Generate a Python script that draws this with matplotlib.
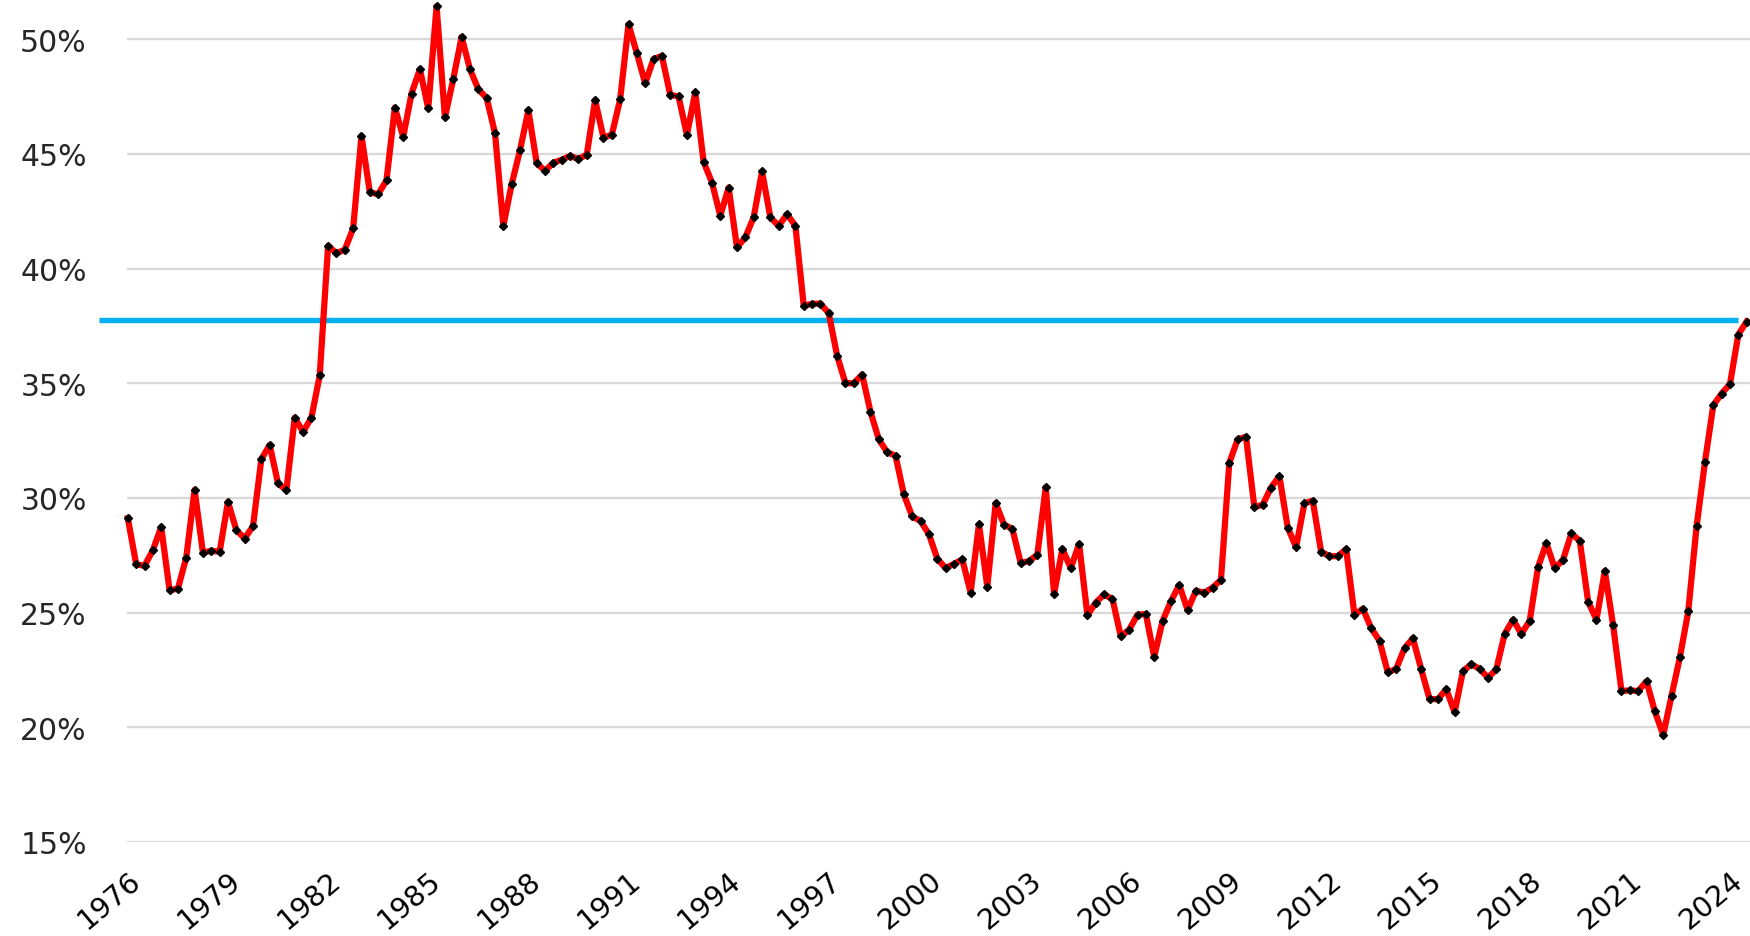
import numpy as np
import matplotlib
matplotlib.use("Agg")
import matplotlib.pyplot as plt
from matplotlib.ticker import FuncFormatter

# quarterly values, 1976 Q1 .. 2024 Q3 (percent)
share = [
    29.11, 27.11, 27.04, 27.72, 28.73, 25.98, 26.04, 27.40, 30.35, 27.61,
    27.70, 27.65, 29.83, 28.60, 28.23, 28.77, 31.69, 32.31, 30.63, 30.34,
    33.50, 32.88, 33.50, 35.35, 40.99, 40.67, 40.82, 41.75, 45.78, 43.32,
    43.24, 43.85, 47.02, 45.74, 47.63, 48.69, 46.98, 51.43, 46.59, 48.26,
    50.10, 48.69, 47.82, 47.43, 45.90, 41.86, 43.68, 45.16, 46.90, 44.59,
    44.26, 44.62, 44.74, 44.91, 44.77, 44.97, 47.34, 45.71, 45.83, 47.38,
    50.65, 49.39, 48.07, 49.13, 49.27, 47.57, 47.50, 45.83, 47.68, 44.65,
    43.75, 42.30, 43.53, 40.92, 41.36, 42.23, 44.23, 42.23, 41.86, 42.37,
    41.86, 38.38, 38.46, 38.47, 38.05, 36.20, 35.00, 35.00, 35.38, 33.75,
    32.55, 31.99, 31.84, 30.15, 29.19, 28.99, 28.42, 27.35, 26.94, 27.12,
    27.32, 25.87, 28.85, 26.13, 29.77, 28.84, 28.65, 27.17, 27.24, 27.53,
    30.46, 25.82, 27.78, 26.94, 27.99, 24.88, 25.44, 25.79, 25.59, 23.96,
    24.26, 24.91, 24.94, 23.07, 24.63, 25.49, 26.21, 25.11, 25.95, 25.87,
    26.09, 26.43, 31.53, 32.55, 32.67, 29.60, 29.70, 30.45, 30.95, 28.71,
    27.85, 29.76, 29.88, 27.66, 27.46, 27.46, 27.77, 24.90, 25.17, 24.33,
    23.77, 22.39, 22.55, 23.45, 23.88, 22.53, 21.23, 21.23, 21.66, 20.66,
    22.45, 22.75, 22.55, 22.16, 22.53, 24.07, 24.69, 24.07, 24.64, 26.98,
    28.03, 26.93, 27.31, 28.46, 28.12, 25.48, 24.69, 26.81, 24.44, 21.58,
    21.61, 21.58, 22.01, 20.69, 19.67, 21.38, 23.06, 25.05, 28.76, 31.56,
    34.04, 34.55, 34.96, 37.12, 37.69,
]
first_year = 1976
label_years = list(range(1976, 2025, 3))
average = 37.76  # long-run average line
y_ticks = [15, 20, 25, 30, 35, 40, 45, 50]

x = np.arange(len(share))
tick_pos = [(yr - first_year) * 4 for yr in label_years]

fig = plt.figure(figsize=(17.5, 9.37), dpi=100)
ax = fig.add_axes([127 / 1750, 1 - 843 / 937, 1 - 127 / 1750, 843 / 937])

ax.plot([-3.5, len(share) - 2], [average, average], color="#00B0F0",
        lw=3.9, solid_capstyle="butt", clip_on=False, zorder=3)
ax.plot(x, share, color="#FF0000", lw=4.5, marker="D", ms=4,
        mfc="black", mec="black", clip_on=False, zorder=4)

ax.set_xlim(-0.1, 194.4)
ax.set_ylim(15, 51.75)
ax.set_yticks(y_ticks)
ax.yaxis.set_major_formatter(FuncFormatter(lambda v, p: f"{v:.0f}%"))
ax.set_xticks(tick_pos)
ax.set_xticklabels([str(y) for y in label_years], rotation=40, ha="right",
                   rotation_mode="anchor")

ax.grid(axis="y", color="#d9d9d9", lw=1.7)
ax.set_axisbelow(True)
for s in ax.spines.values():
    s.set_visible(False)
ax.tick_params(axis="both", length=0)
ax.tick_params(axis="y", pad=29, labelcolor="#262626", labelsize=21.5)
ax.tick_params(axis="x", pad=17, labelcolor="black", labelsize=20.5)

fig.savefig("out.png", dpi=100)
